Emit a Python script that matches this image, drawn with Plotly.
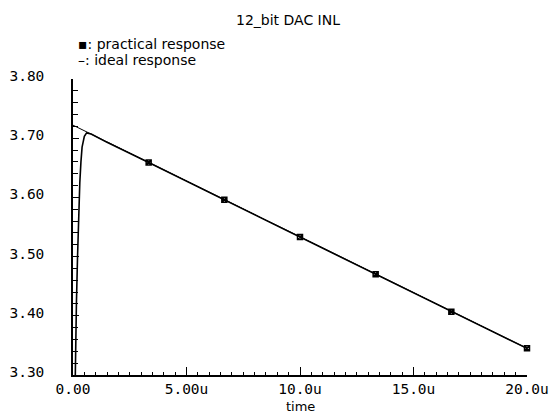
import plotly.graph_objects as go

# ---- data (time in microseconds) ----
ideal_t = [0.0, 20.0]
ideal_v = [3.722, 3.345]

practical_t = [0.0, 0.05, 0.10, 0.15, 0.20, 0.25, 0.30, 0.35, 0.40, 0.50, 0.60, 0.80,
               1.5, 3.333, 5.0, 6.667, 8.3, 10.0, 11.7, 13.333, 15.0, 16.667, 18.3, 20.0]
practical_v = [3.05, 3.20, 3.31, 3.42, 3.50, 3.57, 3.625, 3.66, 3.685, 3.703, 3.709, 3.707,
               3.693, 3.659, 3.627, 3.596, 3.565, 3.533, 3.501, 3.470, 3.439, 3.407, 3.376, 3.345]

marker_t = [3.333, 6.667, 10.0, 13.333, 16.667, 20.0]
marker_v = [3.659, 3.596, 3.533, 3.470, 3.407, 3.345]

x_tickvals = [0, 5, 10, 15, 20]
x_ticktext = ["0.00", "5.00u", "10.0u", "15.0u", "20.0u"]
y_tickvals = [3.30, 3.40, 3.50, 3.60, 3.70, 3.80]
y_ticktext = ["3.30", "3.40", "3.50", "3.60", "3.70", "3.80"]

title_text = "12_bit DAC INL"
legend_lines = ["▪: practical response", "–: ideal response"]
x_title = "time"

W, H = 559, 414
L, R, T, B = 73, 527, 79, 375

fig = go.Figure()
fig.add_trace(go.Scatter(x=ideal_t, y=ideal_v, mode="lines",
                         line=dict(color="black", width=1), showlegend=False))
fig.add_trace(go.Scatter(x=practical_t, y=practical_v, mode="lines",
                         line=dict(color="black", width=1.6), showlegend=False))
fig.add_trace(go.Scatter(x=marker_t, y=marker_v, mode="markers",
                         marker=dict(symbol="square-x-open", size=5, color="black",
                                     line=dict(width=1.5, color="black")),
                         showlegend=False, cliponaxis=False))

tickfont = dict(family="DejaVu Sans Mono", size=14.5, color="black")
textfont = dict(family="DejaVu Sans", size=14, color="black")

fig.update_layout(
    width=W, height=H,
    margin=dict(l=L, r=W - R, t=T, b=H - B, autoexpand=False),
    paper_bgcolor="white", plot_bgcolor="white",
    xaxis=dict(range=[0, 20], tickvals=x_tickvals, ticktext=x_ticktext, automargin=False,
               showgrid=False, zeroline=False, showline=True, linecolor="black", linewidth=1.5,
               ticks="inside", ticklen=8, tickwidth=1.2, tickcolor="black",
               minor=dict(ticks="inside", ticklen=3, dtick=0.5, tickwidth=1.2, tickcolor="black",
                          showgrid=False),
               tickfont=tickfont, ticklabelstandoff=0),
    yaxis=dict(range=[3.30, 3.80], tickvals=y_tickvals, ticktext=y_ticktext, automargin=False,
               showgrid=False, zeroline=False, showline=True, linecolor="black", linewidth=1.5,
               ticks="inside", ticklen=6, tickwidth=1.2, tickcolor="black",
               minor=dict(ticks="inside", ticklen=5, dtick=0.02, tickwidth=1.2, tickcolor="black",
                          showgrid=False),
               tickfont=tickfont, ticklabelstandoff=24, ticklabelshift=-3),
)

# title
fig.add_annotation(text=title_text, xref="paper", yref="paper",
                   x=(288 - L) / (R - L), y=(B - 20) / (B - T),
                   xanchor="center", yanchor="middle", showarrow=False,
                   font=dict(family="DejaVu Sans", size=14, color="black"))
# x axis title
fig.add_annotation(text=x_title, xref="paper", yref="paper",
                   x=(300 - L) / (R - L), y=(B - 406) / (B - T),
                   xanchor="center", yanchor="middle", showarrow=False,
                   font=dict(family="DejaVu Sans", size=13, color="black"))
# legend text lines
for i, txt in enumerate(legend_lines):
    fig.add_annotation(text=txt, xref="paper", yref="paper",
                       x=(76 - L) / (R - L), y=(B - (44 + 16 * i)) / (B - T),
                       xanchor="left", yanchor="middle", showarrow=False, font=textfont)

fig.write_html("out.html", config={"displayModeBar": False},
               post_script="document.body.style.margin='0';")
